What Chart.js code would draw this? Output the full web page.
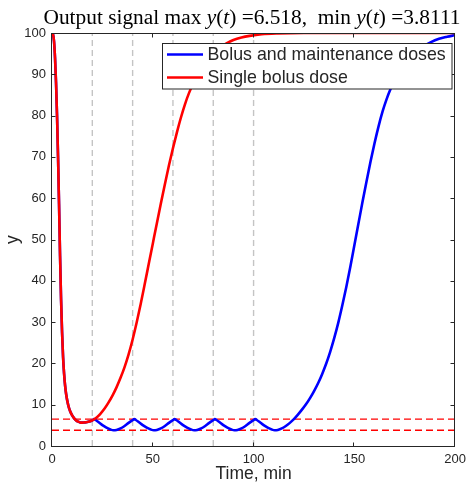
<!DOCTYPE html>
<html>
<head>
<meta charset="utf-8">
<script src="https://cdn.jsdelivr.net/npm/chart.js@4.4.1/dist/chart.umd.min.js"></script>
<style>
  html, body { margin: 0; padding: 0; background: #fff; }
  canvas { display: block; }
</style>
</head>
<body>
<canvas id="signalChart" width="472" height="485"></canvas>
<script>
// single bolus at t = 0
const singleTime = [0, 0.5, 1, 1.5, 2, 2.5, 3, 3.5, 4, 4.5, 5, 5.5, 6, 6.5, 7, 8, 9, 10, 11, 12, 13, 14, 15, 16, 17, 18, 19, 20,
  21, 22, 24, 26, 28, 30, 32, 34, 36, 38, 40, 42, 44, 46, 48, 50, 52, 54, 56, 58, 60, 62, 64, 66, 68, 70, 72, 75, 78, 81, 84, 87, 90, 94, 98,
  104, 112, 125, 150, 175, 200];
const singleValue = [100, 99.7, 98, 94, 88, 80, 70, 58.5, 46, 35.5, 27.5, 21.5, 17.5, 14.6, 12.6, 10.0, 8.4, 7.4, 6.7, 6.2, 5.9, 5.7, 5.65, 5.7, 5.75, 5.85, 6.0, 6.2,
  6.5, 6.85, 7.8, 9.0, 10.5, 12.2, 14.2, 16.5, 19.1, 22.2, 25.8, 29.9, 34.4, 39.2, 44.1, 49.0, 53.9, 58.7, 63.4, 67.9, 72.1, 76.0, 79.6, 82.8, 85.5, 87.7, 89.6, 91.9, 93.8, 95.4, 96.7, 97.6, 98.3, 98.9, 99.3,
  99.7, 99.9, 100, 100, 100, 100];

// same bolus plus maintenance doses every 20 min up to t = 100
const maintTime = [0, 0.5, 1, 1.5, 2, 2.5, 3, 3.5, 4, 4.5, 5, 5.5, 6, 6.5, 7, 8, 9, 10, 11, 12, 13, 14, 15, 16, 17, 18, 19, 20,
  20.8, 21.6, 23, 25, 27, 29, 30.5, 32, 34, 36, 38, 40,
  40.8, 41.6, 43, 45, 47, 49, 50.5, 52, 54, 56, 58, 60,
  60.8, 61.6, 63, 65, 67, 69, 70.5, 72, 74, 76, 78, 80,
  80.8, 81.6, 83, 85, 87, 89, 90.5, 92, 94, 96, 98, 100,
  100.8, 101.6, 103, 105, 107, 109, 110.5, 112, 114, 116, 118, 120,
  122, 124, 126, 128, 130, 132, 134, 136, 138, 140, 142, 144, 146, 148, 150, 152, 154, 156, 158, 160, 162, 164, 166, 168, 170,
  173, 176, 180, 184, 188, 192, 196, 200];
const maintValue = [100, 99.7, 98, 94, 88, 80, 70, 58.5, 46, 35.5, 27.5, 21.5, 17.5, 14.6, 12.6, 10.0, 8.4, 7.4, 6.7, 6.2, 5.9, 5.7, 5.65, 5.7, 5.75, 5.85, 6.0, 6.2,
  6.52, 6.3, 5.8, 5.05, 4.45, 4.0, 3.81, 3.9, 4.25, 4.85, 5.6, 6.27,
  6.52, 6.3, 5.8, 5.05, 4.45, 4.0, 3.81, 3.9, 4.25, 4.85, 5.6, 6.27,
  6.52, 6.3, 5.8, 5.05, 4.45, 4.0, 3.81, 3.9, 4.25, 4.85, 5.6, 6.27,
  6.52, 6.3, 5.8, 5.05, 4.45, 4.0, 3.81, 3.9, 4.25, 4.85, 5.6, 6.27,
  6.52, 6.3, 5.8, 5.05, 4.45, 4.0, 3.81, 3.9, 4.25, 4.85, 5.6, 6.5,
  7.6, 8.8, 10.1, 11.6, 13.3, 15.2, 17.4, 19.9, 22.8, 26.1, 29.8, 34.0, 38.5, 43.4, 48.6, 53.8, 59.0, 64.0, 68.8, 73.3, 77.4, 81.0, 84.0, 86.5, 88.6,
  91.2, 93.3, 95.3, 96.7, 97.8, 98.6, 99.1, 99.5];

const doseTimes = [20, 40, 60, 80, 100];
const signalBounds = [6.518, 3.8111];   // max / min of y(t) during maintenance
const xTickValues = [0, 50, 100, 150, 200];
const yTickValues = [0, 10, 20, 30, 40, 50, 60, 70, 80, 90, 100];

const seriesNames = ['Bolus and maintenance doses', 'Single bolus dose'];
const seriesColors = ['#0000ff', '#ff0000'];

const toPoints = (xs, ys) => xs.map((x, i) => ({ x: x, y: ys[i] }));

const AXIS_COLOR = '#262626';
const SANS = '"Liberation Sans", Arial, sans-serif';
const SERIF = '"Liberation Serif", "Times New Roman", serif';

// axes box, inward ticks, title, axis labels and legend, matlab style
const decorations = {
    id: 'decorations',
    afterDraw(chart) {
        const { ctx, chartArea: a, scales: { x, y } } = chart;
        const L = Math.round(a.left) - 0.5, R = Math.round(a.right) - 0.5;
        const T = Math.round(a.top) + 0.5, B = Math.round(a.bottom) + 0.5;
        ctx.save();

        ctx.strokeStyle = AXIS_COLOR;
        ctx.lineWidth = 1;
        ctx.strokeRect(L, T, R - L, B - T);
        ctx.beginPath();
        yTickValues.forEach(v => {
            const py = Math.round(y.getPixelForValue(v)) + 0.5;
            ctx.moveTo(L, py); ctx.lineTo(L + 4, py);
            ctx.moveTo(R, py); ctx.lineTo(R - 4, py);
        });
        xTickValues.forEach(v => {
            const px = Math.round(x.getPixelForValue(v)) - 0.5;
            ctx.moveTo(px, B); ctx.lineTo(px, B - 4);
            ctx.moveTo(px, T); ctx.lineTo(px, T + 4);
        });
        ctx.stroke();

        // title with italic y(t)
        const parts = [
            ['Output signal max ', false], ['y', true], ['(', false], ['t', true], [') =' + signalBounds[0] + ',  min ', false],
            ['y', true], ['(', false], ['t', true], [') =' + signalBounds[1], false]
        ];
        const fontFor = it => (it ? 'italic ' : '') + '20px ' + SERIF;
        let total = 0;
        parts.forEach(([s, it]) => { ctx.font = fontFor(it); total += ctx.measureText(s).width; });
        const targetW = 417;
        ctx.save();
        ctx.translate(252 - targetW / 2, 24);
        ctx.scale(targetW / total, 1);
        ctx.fillStyle = '#000';
        ctx.textBaseline = 'alphabetic';
        ctx.textAlign = 'left';
        let cx = 0;
        parts.forEach(([s, it]) => {
            ctx.font = fontFor(it);
            ctx.fillText(s, cx, 0);
            cx += ctx.measureText(s).width;
        });
        ctx.restore();

        // axis titles
        ctx.fillStyle = AXIS_COLOR;
        ctx.font = '17.5px ' + SANS;
        ctx.textAlign = 'center';
        ctx.textBaseline = 'alphabetic';
        ctx.fillText('Time, min', (a.left + a.right) / 2, 479);
        ctx.save();
        ctx.translate(18, (a.top + a.bottom) / 2);
        ctx.rotate(-Math.PI / 2);
        ctx.fillText('y', 0, 0);
        ctx.restore();

        // legend box
        const bx = 162.5, by = 43.5, bw = 289.5, bh = 45.5;
        ctx.fillStyle = '#fff';
        ctx.fillRect(bx, by, bw, bh);
        ctx.strokeStyle = AXIS_COLOR;
        ctx.lineWidth = 1;
        ctx.strokeRect(bx, by, bw, bh);
        ctx.font = '17.8px ' + SANS;
        ctx.textAlign = 'left';
        ctx.textBaseline = 'middle';
        seriesNames.forEach((name, i) => {
            const ly = 54.5 + i * 23;
            ctx.strokeStyle = seriesColors[i];
            ctx.lineWidth = 2.6;
            ctx.beginPath();
            ctx.moveTo(167, ly);
            ctx.lineTo(203, ly);
            ctx.stroke();
            ctx.fillStyle = AXIS_COLOR;
            ctx.fillText(name, 207.5, ly + 1);
        });
        ctx.restore();
    }
};

const datasets = [
    {
        label: seriesNames[1],
        data: toPoints(singleTime, singleValue),
        borderColor: seriesColors[1],
        borderWidth: 2.6,
        cubicInterpolationMode: 'monotone',
        order: 0
    },
    {
        label: seriesNames[0],
        data: toPoints(maintTime, maintValue),
        borderColor: seriesColors[0],
        borderWidth: 2.6,
        cubicInterpolationMode: 'monotone',
        order: 1
    }
];
signalBounds.forEach(v => datasets.push({
    data: [{ x: 0, y: v }, { x: 200, y: v }],
    borderColor: '#ff0000',
    borderWidth: 1.4,
    borderDash: [7, 4],
    order: 2
}));
doseTimes.forEach(t => datasets.push({
    data: [{ x: t, y: 0 }, { x: t, y: 100 }],
    borderColor: '#c4c4c4',
    borderWidth: 1.4,
    borderDash: [6, 4],
    order: 3
}));

const tickFont = { family: SANS, size: 13 };

new Chart(document.getElementById('signalChart'), {
    type: 'line',
    data: { datasets: datasets },
    options: {
        responsive: false,
        animation: false,
        devicePixelRatio: 1,
        layout: { padding: { top: 33, right: 10, left: 0, bottom: 0 } },
        elements: { point: { radius: 0, hoverRadius: 0 }, line: { fill: false } },
        plugins: { legend: { display: false }, title: { display: false }, tooltip: { enabled: false } },
        events: [],
        scales: {
            x: {
                type: 'linear',
                min: 0,
                max: 200,
                grid: { display: false, drawTicks: false },
                border: { display: false },
                ticks: { font: tickFont, color: AXIS_COLOR, padding: 6, maxRotation: 0 },
                afterBuildTicks: scale => { scale.ticks = xTickValues.map(v => ({ value: v })); },
                afterFit: scale => { scale.height = 39; }
            },
            y: {
                type: 'linear',
                min: 0,
                max: 100,
                grid: { display: false, drawTicks: false },
                border: { display: false },
                ticks: { font: tickFont, color: AXIS_COLOR, padding: 6 },
                afterBuildTicks: scale => { scale.ticks = yTickValues.map(v => ({ value: v })); },
                afterFit: scale => { scale.width = 52; }
            }
        }
    },
    plugins: [decorations]
});
</script>
</body>
</html>
